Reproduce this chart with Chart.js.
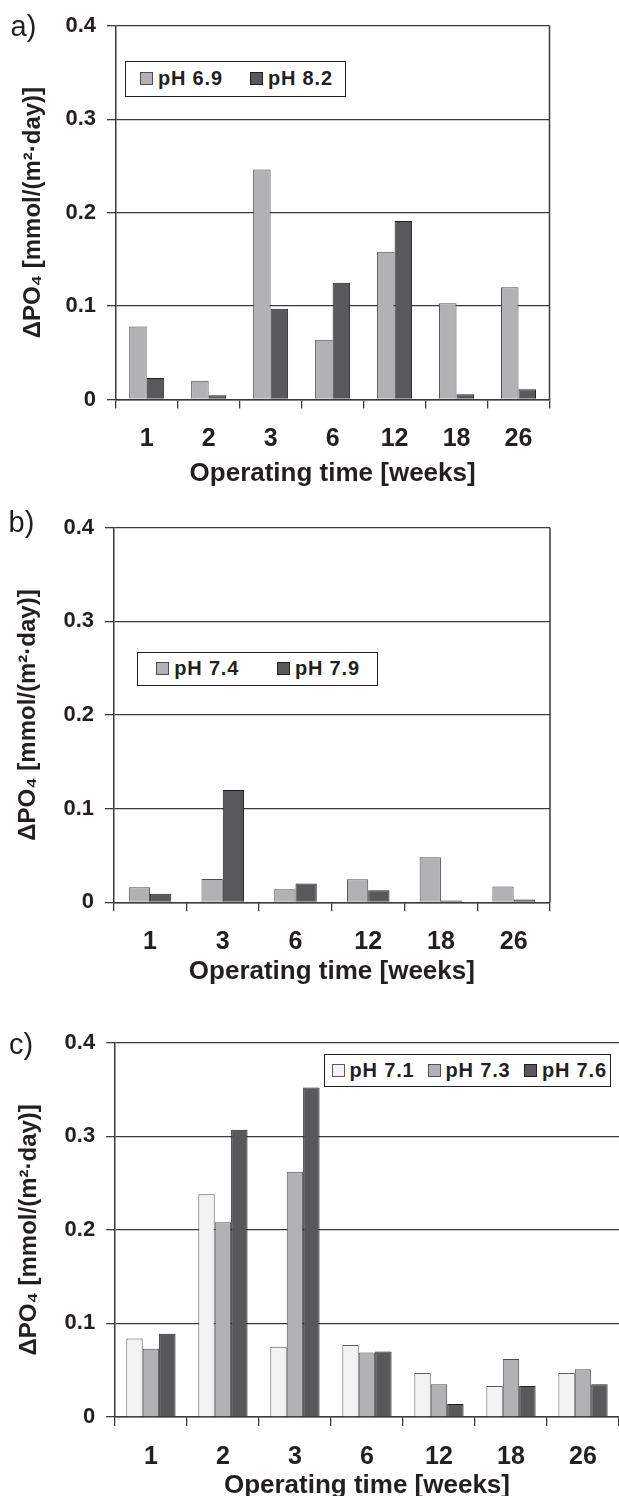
<!DOCTYPE html>
<html><head><meta charset="utf-8">
<script src="https://cdn.jsdelivr.net/npm/chart.js@4.4.1/dist/chart.umd.min.js"></script>
<style>
html,body{margin:0;padding:0;width:619px;height:1496px;overflow:hidden;background:#fff;}
canvas{position:absolute;left:0;}
.panel{position:absolute;font-family:'Liberation Sans',Arial,sans-serif;font-size:29px;line-height:29px;color:#231f20;}
.legend{position:absolute;border:1.5px solid #231f20;background:#fff;box-sizing:border-box;}
.item{position:absolute;display:flex;align-items:center;font-family:'Liberation Sans',Arial,sans-serif;font-weight:bold;font-size:20px;letter-spacing:0.8px;color:#231f20;white-space:nowrap;}
.sw{width:13px;height:13px;box-sizing:border-box;border:1px solid #333;margin-right:5px;}
</style></head><body>
<canvas id="ca" width="619" height="491" style="top:0px"></canvas>
<canvas id="cb" width="619" height="498" style="top:491px"></canvas>
<canvas id="cc" width="619" height="520" style="top:989px"></canvas>
<div class="panel" style="left:10.5px;top:12px">a)</div>
<div class="panel" style="left:8.5px;top:508px">b)</div>
<div class="panel" style="left:9px;top:1030px">c)</div>
<script>
// ---- data ----
const yTickVals = [0, 0.1, 0.2, 0.3, 0.4];
const yTickLabels = ['0', '0.1', '0.2', '0.3', '0.4'];
const xTitle = 'Operating time [weeks]';
const yTitle = 'ΔPO₄ [mmol/(m²·day)]';

const catsA = ['1', '2', '3', '6', '12', '18', '26'];
const labelsA = ['pH 6.9', 'pH 8.2'];
const a_pH69 = [0.078, 0.020, 0.246, 0.064, 0.158, 0.103, 0.120];
const a_pH82 = [0.023, 0.0045, 0.097, 0.125, 0.191, 0.0056, 0.011];

const catsB = ['1', '3', '6', '12', '18', '26'];
const labelsB = ['pH 7.4', 'pH 7.9'];
const b_pH74 = [0.016, 0.025, 0.014, 0.0245, 0.048, 0.017];
const b_pH79 = [0.009, 0.120, 0.020, 0.013, 0.002, 0.003];

const catsC = ['1', '2', '3', '6', '12', '18', '26'];
const labelsC = ['pH 7.1', 'pH 7.3', 'pH 7.6'];
const c_pH71 = [0.084, 0.238, 0.075, 0.077, 0.047, 0.033, 0.047];
const c_pH73 = [0.073, 0.208, 0.262, 0.069, 0.035, 0.062, 0.051];
const c_pH76 = [0.089, 0.307, 0.352, 0.070, 0.014, 0.033, 0.035];

// ---- styles ----
const TXT = '#231f20', GRID = '#3a3a3a';
const FONT = "'Liberation Sans', Arial, sans-serif";
const WHITE = {fill: '#f2f3f2', edge: '#5a5a5a'};
const LIGHT = {fill: '#b1b2b4', edge: '#4d4d4f'};
const DARK = {fill: '#58595b', edge: '#231f20'};

const framePlugin = {
  id: 'frame',
  afterDraw(chart, args, o) {
    if (!o.right) return;
    const {ctx, chartArea: a} = chart;
    ctx.save();
    ctx.strokeStyle = GRID; ctx.lineWidth = 1.5;
    ctx.beginPath(); ctx.moveTo(a.right, a.top); ctx.lineTo(a.right, a.bottom); ctx.stroke();
    ctx.restore();
  }
};

function build(id, cats, series, L) {
  return new Chart(document.getElementById(id), {
    type: 'bar',
    data: {
      labels: cats,
      datasets: series.map(s => ({
        label: s.label, data: s.data,
        backgroundColor: s.style.fill, borderColor: s.style.edge, borderWidth: 1,
        categoryPercentage: L.cp, barPercentage: 1
      }))
    },
    options: {
      responsive: false, animation: false, devicePixelRatio: 1,
      layout: {padding: {left: 0, right: L.padR, top: L.padT, bottom: 0}},
      plugins: {legend: {display: false}, tooltip: {enabled: false}, frame: {right: L.rightBorder}},
      scales: {
        x: {
          offset: true,
          grid: {display: true, drawOnChartArea: false, tickLength: 9, color: GRID, lineWidth: 1.3, offset: true},
          border: {display: true, color: GRID, width: 1.5},
          ticks: {color: TXT, font: {family: FONT, size: 25, weight: 'bold'}, padding: L.xTickPad, maxRotation: 0, autoSkip: false},
          title: {display: true, text: xTitle, color: TXT, font: {family: FONT, size: 26, weight: 'bold'}, padding: {top: 0, bottom: L.xTitlePad}},
          afterFit: s => { s.height = L.xH; }
        },
        y: {
          min: 0, max: 0.4,
          afterBuildTicks: s => { s.ticks = yTickVals.map(v => ({value: v})); },
          ticks: {color: TXT, font: {family: FONT, size: 22, weight: 'bold'}, padding: 11,
                  callback: (v, i) => yTickLabels[i]},
          grid: {color: GRID, lineWidth: 1.3, tickLength: 8.7},
          border: {display: true, color: GRID, width: 1.5},
          title: {display: true, text: yTitle, color: TXT, font: {family: FONT, size: 24, weight: 'bold'}, padding: {top: L.yTitlePad, bottom: 0}},
          afterFit: s => { s.width = L.yW; }
        }
      }
    },
    plugins: [framePlugin]
  });
}

build('ca', catsA, [
  {label: labelsA[0], data: a_pH69, style: LIGHT},
  {label: labelsA[1], data: a_pH82, style: DARK}
], {cp: 0.565, padR: 69.5, padT: 25.7, xH: 91.5, xTickPad: 16, xTitlePad: 2, yW: 115.7, yTitlePad: 19, rightBorder: true});

build('cb', catsB, [
  {label: labelsB[0], data: b_pH74, style: LIGHT},
  {label: labelsB[1], data: b_pH79, style: DARK}
], {cp: 0.585, padR: 69, padT: 36.7, xH: 86.7, xTickPad: 16, xTitlePad: 2, yW: 113.7, yTitlePad: 13.6, rightBorder: true});

build('cc', catsC, [
  {label: labelsC[0], data: c_pH71, style: WHITE},
  {label: labelsC[1], data: c_pH73, style: LIGHT},
  {label: labelsC[2], data: c_pH76, style: DARK}
], {cp: 0.684, padR: 0, padT: 53.7, xH: 92, xTickPad: 16, xTitlePad: 7.4, yW: 114.9, yTitlePad: 15, rightBorder: false});

// ---- HTML legends ----
function legend(box, labels, styles, swLefts) {
  const b = document.createElement('div');
  b.className = 'legend';
  Object.assign(b.style, {left: box[0] + 'px', top: box[1] + 'px', width: box[2] + 'px', height: box[3] + 'px'});
  document.body.appendChild(b);
  labels.forEach((lab, i) => {
    const it = document.createElement('div');
    it.className = 'item';
    Object.assign(it.style, {left: swLefts[i] + 'px', top: box[1] + 'px', height: box[3] + 'px'});
    const sw = document.createElement('span');
    sw.className = 'sw';
    sw.style.background = styles[i].fill;
    sw.style.borderColor = styles[i].edge;
    const t = document.createElement('span');
    t.textContent = lab;
    it.appendChild(sw); it.appendChild(t);
    document.body.appendChild(it);
  });
}
legend([124.8, 60.7, 221, 36.3], labelsA, [LIGHT, DARK], [140, 250]);
legend([136.6, 651.7, 241.2, 34.6], labelsB, [LIGHT, DARK], [156.3, 277]);
legend([323.7, 1054, 287, 32.7], labelsC, [WHITE, LIGHT, DARK], [331.6, 427.6, 524]);
</script>
</body></html>
